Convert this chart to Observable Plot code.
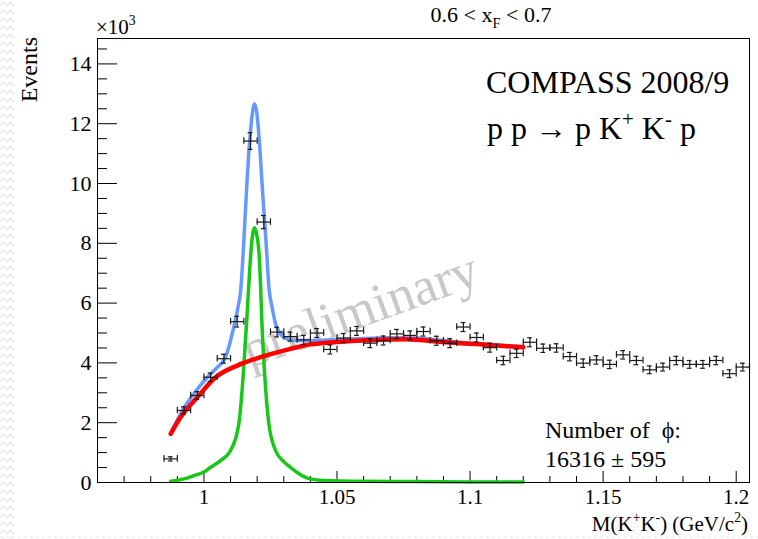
<!DOCTYPE html>
<html><head><meta charset="utf-8">
<script src="https://cdn.jsdelivr.net/npm/d3@7"></script>
<script src="https://cdn.jsdelivr.net/npm/@observablehq/plot@0.6"></script>
<style>body{margin:0;background:#fff;}</style>
</head><body><div id="chart"></div>
<script>
// ---- data (events in thousands) ----
const binCenters = [0.9875,0.9925,0.9975,1.0025,1.0075,1.0125,1.0175,1.0225,1.0275,1.0325,
  1.0375,1.0425,1.0475,1.0525,1.0575,1.0625,1.0675,1.0725,1.0775,1.0825,
  1.0875,1.0925,1.0975,1.1025,1.1075,1.1125,1.1175,1.1225,1.1275,1.1325,
  1.1375,1.1425,1.1475,1.1525,1.1575,1.1625,1.1675,1.1725,1.1775,1.1825,
  1.1875,1.1925,1.1975,1.2025];
const events = [0.79,2.41,2.91,3.52,4.14,5.38,11.42,8.71,5.03,4.88,
  4.77,5.00,4.45,4.83,5.07,4.66,4.75,4.97,4.92,5.05,
  4.74,4.66,5.20,4.85,4.51,4.08,4.32,4.69,4.49,4.50,
  4.21,3.99,4.10,3.95,4.27,4.08,3.77,3.86,4.08,3.95,
  3.95,4.08,3.64,3.86];
const eventErrors = [0.07,0.12,0.13,0.14,0.15,0.18,0.28,0.22,0.16,0.15,
  0.15,0.15,0.15,0.15,0.15,0.15,0.15,0.15,0.15,0.15,
  0.15,0.15,0.15,0.15,0.15,0.14,0.14,0.15,0.14,0.14,
  0.14,0.14,0.14,0.14,0.14,0.14,0.13,0.13,0.14,0.13,
  0.13,0.14,0.13,0.13];
const binHalfWidth = 0.0025;

const totalFitX = [0.9875,0.9919,0.9962,1.0013,1.0050,1.0081,1.0115,1.0128,1.0138,1.0150,1.0160,1.0172,1.0183,1.0190,
  1.0198,1.0208,1.0220,1.0233,1.0245,1.0256,1.0269,1.0285,1.0300,1.0336,1.0400,1.0500,1.0600,1.0700,1.0800,1.0900,1.1000,1.1100,1.1200];
const totalFitY = [1.63,2.41,2.97,3.52,3.85,4.19,5.31,5.86,6.42,8.09,9.77,11.44,12.40,12.66,
  12.40,11.44,9.77,8.09,6.45,5.86,5.31,5.00,4.86,4.75,4.75,4.78,4.82,4.84,4.83,4.75,4.66,4.60,4.54];

const bkgFitX = [0.9875,0.9912,0.9975,1.0044,1.0125,1.0213,1.0325,1.0400,1.0500,1.0640,1.0760,1.0910,1.1040,1.1200];
const bkgFitY = [1.63,2.18,2.85,3.52,3.91,4.19,4.47,4.62,4.70,4.77,4.79,4.69,4.62,4.52];

const sigFitX = [0.9875,0.9925,0.9962,1.0000,1.0025,1.0065,1.0100,1.0131,1.0148,1.0160,1.0168,1.0175,1.0183,1.0190,
  1.0198,1.0208,1.0213,1.0218,1.0228,1.0244,1.0269,1.0300,1.0325,1.0360,1.0400,1.0450,1.0600,1.0800,1.1000,1.1200];
const sigFitY = [0.04,0.12,0.23,0.35,0.51,0.75,1.07,1.96,3.64,5.31,6.53,7.53,8.30,8.52,
  8.30,7.53,6.53,5.31,3.64,1.96,1.07,0.70,0.51,0.28,0.12,0.07,0.04,0.03,0.02,0.02];

const xMajorTicks = [1,1.05,1.1,1.15,1.2];
const xMinorTicks = [0.97,0.98,0.99,1.01,1.02,1.03,1.04,1.06,1.07,1.08,1.09,1.11,1.12,1.13,1.14,1.16,1.17,1.18,1.19];
const yMajorTicks = [0,2,4,6,8,10,12,14];
const yMinorTicks = [0.5,1,1.5,2.5,3,3.5,4.5,5,5.5,6.5,7,7.5,8.5,9,9.5,10.5,11,11.5,12.5,13,13.5,14.5];

// ---- build ----
const points = binCenters.map((x,i)=>({x, v: events[i], e: eventErrors[i]}));
const total = totalFitX.map((x,i)=>({x, y: totalFitY[i]}));
const bkg = bkgFitX.map((x,i)=>({x, y: bkgFitY[i]}));
const sig = sigFitX.map((x,i)=>({x, y: sigFitY[i]}));

const X0 = 0.96, X1 = 1.205, Y1 = 14.85;
const capX = 0.0009, capY = 0.11;
const ink = "#1a1a1a";

const plot = Plot.plot({
  width: 758, height: 539,
  marginLeft: 97, marginRight: 9, marginTop: 38, marginBottom: 57,
  x: {domain: [X0, X1]},
  y: {domain: [0, Y1]},
  style: {fontFamily: "'Liberation Serif', 'Times New Roman', serif", background: "#fff", color: "#000"},
  marks: [
    Plot.axisX(xMajorTicks, {tickSize: 0, tickPadding: 7, fontSize: 21, label: null, tickFormat: d => String(d)}),
    Plot.axisY(yMajorTicks, {tickSize: 0, tickPadding: 6, fontSize: 22, label: null, tickFormat: d => String(d)}),
    Plot.ruleX(xMajorTicks, {x: d => d, y1: 0, y2: 0.37, stroke: "#000"}),
    Plot.ruleX(xMinorTicks, {x: d => d, y1: 0, y2: 0.2, stroke: "#000"}),
    Plot.ruleY(yMajorTicks, {y: d => d, x1: X0, x2: X0 + 0.0075, stroke: "#000"}),
    Plot.ruleY(yMinorTicks, {y: d => d, x1: X0, x2: X0 + 0.00375, stroke: "#000"}),
    Plot.line(total, {x: "x", y: "y", stroke: "#6699ff", strokeWidth: 3.5, curve: "monotone-x"}),
    Plot.line(sig, {x: "x", y: "y", stroke: "#18c818", strokeWidth: 3.5, curve: "monotone-x"}),
    Plot.line(bkg, {x: "x", y: "y", stroke: "#ff0000", strokeWidth: 4.5, curve: "monotone-x"}),
    Plot.ruleY(points, {y: "v", x1: d => d.x - binHalfWidth, x2: d => d.x + binHalfWidth, stroke: ink, strokeWidth: 1.2}),
    Plot.ruleX(points, {x: "x", y1: d => d.v - d.e, y2: d => d.v + d.e, stroke: ink, strokeWidth: 1.2}),
    Plot.ruleX(points, {x: d => d.x - binHalfWidth, y1: d => d.v - capY, y2: d => d.v + capY, stroke: ink, strokeWidth: 1.2}),
    Plot.ruleX(points, {x: d => d.x + binHalfWidth, y1: d => d.v - capY, y2: d => d.v + capY, stroke: ink, strokeWidth: 1.2}),
    Plot.ruleY(points, {y: d => d.v + d.e, x1: d => d.x - capX, x2: d => d.x + capX, stroke: ink, strokeWidth: 1.2}),
    Plot.ruleY(points, {y: d => d.v - d.e, x1: d => d.x - capX, x2: d => d.x + capX, stroke: ink, strokeWidth: 1.2}),
    Plot.frame({stroke: "#000"})
  ]
});
document.getElementById("chart").appendChild(plot);

// ---- annotations ----
const svg = d3.select(plot);
// faint slide decoration: zigzag strip on the left, dotted line at the bottom
const defs = svg.insert("defs", ":first-child");
const pat = defs.append("pattern").attr("id", "zig").attr("patternUnits", "userSpaceOnUse")
  .attr("width", 14).attr("height", 8);
pat.append("path").attr("d", "M0,6 L3.5,2 L7,6 L10.5,2 L14,6").attr("fill", "none")
  .attr("stroke", "#ececec").attr("stroke-width", 1.5);
svg.insert("rect", "g").attr("x", 0).attr("y", 0).attr("width", 14).attr("height", 539).attr("fill", "url(#zig)");
svg.insert("line", "g").attr("x1", 0).attr("x2", 758).attr("y1", 537).attr("y2", 537)
  .attr("stroke", "#e8e8e8").attr("stroke-dasharray", "3,3");
// watermark behind the marks
svg.insert("text", "g")
  .attr("transform", "translate(366,326) rotate(-20)")
  .attr("text-anchor", "middle")
  .attr("font-size", 53)
  .attr("fill", "#c8c8c8")
  .text("preliminary");

function richText(x, y, size, segments, anchor, transform) {
  const t = svg.append("text").attr("font-size", size)
    .attr("text-anchor", anchor || "start").attr("fill", "#000");
  if (transform) t.attr("transform", transform); else t.attr("x", x).attr("y", y);
  let shift = 0;
  for (const [s, k] of segments) {
    const target = k === "sup" ? -0.42 * size : k === "sub" ? 0.25 * size : 0;
    t.append("tspan").attr("dy", target - shift).attr("font-size", k ? size * 0.65 : size).text(s);
    shift = target;
  }
  return t;
}
richText(96, 34, 21, [["×10", ""], ["3", "sup"]]);
richText(0, 0, 24, [["Events", ""]], "end", "translate(37,37) rotate(-90)");
richText(491, 22, 22, [["0.6 < x", ""], ["F", "sub"], [" < 0.7", ""]], "middle");
richText(486, 93, 32, [["COMPASS 2008/9", ""]]);
richText(487, 139, 32, [["p p \u2192 p K", ""], ["+", "sup"], [" K", ""], ["-", "sup"], [" p", ""]]);
richText(545, 438, 24, [["Number of  \u03d5:", ""]]);
richText(545, 467, 24, [["16316 \u00b1 595", ""]]);
richText(748, 531, 21, [["M(K", ""], ["+", "sup"], ["K", ""], ["-", "sup"], [") (GeV/c", ""], ["2", "sup"], [")", ""]], "end");
</script>
</body></html>
